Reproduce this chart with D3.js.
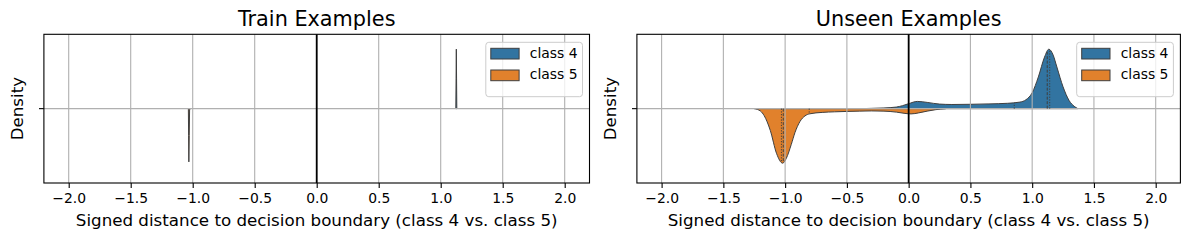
<!DOCTYPE html>
<html>
<head>
<meta charset="utf-8">
<script src="https://cdn.jsdelivr.net/npm/d3@7"></script>
<style>
  body { margin: 0; background: #fff; }
  svg { display: block; font-family: "DejaVu Sans", sans-serif; }
</style>
</head>
<body>
<svg id="canvas" width="1189" height="240"></svg>
<script>
// ---------- data ----------
let panelTitles = ['Train Examples', 'Unseen Examples']
let classNames = ['class 4', 'class 5']
let xTicks = [-2.0, -1.5, -1.0, -0.5, 0.0, 0.5, 1.0, 1.5, 2.0]
let xLabel = 'Signed distance to decision boundary (class 4 vs. class 5)'
let yLabel = 'Density'

// train: both classes collapse into very narrow spikes
let train4X = [1.122, 1.124, 1.126, 1.128, 1.130]
let train4Density = [0, 30, 60, 30, 0]
let train5X = [-1.035, -1.033, -1.031, -1.028, -1.025, -1.016]
let train5Density = [0, 27, 53.7, 27, 0.5, 0]

// unseen: kde estimates (relative density)
let unseen4X = [-0.38, -0.3, -0.2, -0.1, -0.05, 0.0, 0.07, 0.15, 0.25, 0.35, 0.5, 0.65, 0.8, 0.9, 0.95, 1.0, 1.05, 1.1, 1.135, 1.17, 1.2, 1.25, 1.3, 1.34, 1.37]
let unseen4Density = [0, 0.015, 0.035, 0.08, 0.15, 0.25, 0.365, 0.315, 0.23, 0.21, 0.22, 0.24, 0.27, 0.33, 0.45, 0.8, 1.6, 2.6, 3.0, 2.7, 2.1, 1.1, 0.4, 0.12, 0]
let unseen5X = [-1.25, -1.2, -1.17, -1.12, -1.07, -1.02, -0.99, -0.95, -0.92, -0.88, -0.84, -0.8, -0.7, -0.6, -0.5, -0.4, -0.3, -0.2, -0.1, -0.03, 0.02, 0.08, 0.15, 0.22, 0.3]
let unseen5Density = [0, 0.12, 0.35, 1.1, 2.25, 2.75, 2.5, 1.8, 1.2, 0.65, 0.37, 0.26, 0.19, 0.16, 0.14, 0.125, 0.115, 0.125, 0.175, 0.24, 0.265, 0.215, 0.125, 0.05, 0]

// quartiles (q1, median, q3) of the unseen sets
let unseen4Quartiles = [0.855, 1.122, 1.142]
let unseen5Quartiles = [-1.03, -1.015, -0.805]

let colors = ['#3274a1', '#e1812c']
let edgeColor = '#3f3f3f'

// ---------- layout ----------
let canvas = d3.select('#canvas')
let boxTop = 34.3, boxBottom = 183
let panels = [
    {left: 43.9, right: 589.5, title: panelTitles[0],
     violins: [[train4X, train4Density], [train5X, train5Density]], quart: null},
    {left: 636.9, right: 1180.4, title: panelTitles[1],
     violins: [[unseen4X, unseen4Density], [unseen5X, unseen5Density]],
     quart: [unseen4Quartiles, unseen5Quartiles]}
]

let interp = (xs, ds, v) => {
    for (let i = 0; i < xs.length - 1; i++) {
        if (v >= xs[i] && v <= xs[i + 1]) {
            let t = (v - xs[i]) / (xs[i + 1] - xs[i])
            return ds[i] + t * (ds[i + 1] - ds[i])
        }
    }
    return 0
}

panels.forEach((p, pi) => {
    let xScale = d3.scaleLinear().domain([-2.2, 2.2]).range([p.left, p.right])
    let yScale = d3.scaleLinear().domain([-0.5, 0.5]).range([boxTop, boxBottom])
    let maxD = d3.max(p.violins, v => d3.max(v[1]))
    let half = d => d / maxD * 0.4
    let g = canvas.append('g')

    // violins (drawn below the grid like matplotlib patches)
    p.violins.forEach((v, ci) => {
        let sign = ci === 0 ? -1 : 1
        let pts = v[0].map((x, i) => [x, v[1][i]])
        let area = d3.area()
            .x(d => xScale(d[0]))
            .y0(yScale(0))
            .y1(d => yScale(sign * half(d[1])))
            .curve(pi === 0 ? d3.curveLinear : d3.curveMonotoneX)
        g.append('path')
            .datum(pts)
            .attr('d', area)
            .attr('fill', colors[ci])
            .attr('stroke', edgeColor)
            .attr('stroke-width', 1)
            .attr('stroke-linejoin', 'round')
    })

    // grid
    g.selectAll('.vgrid')
        .data(xTicks)
        .enter()
        .append('line')
        .attr('x1', d => xScale(d)).attr('x2', d => xScale(d))
        .attr('y1', boxTop).attr('y2', boxBottom)
        .attr('stroke', '#b0b0b0').attr('stroke-width', 1.1)
    g.append('line')
        .attr('x1', p.left).attr('x2', p.right)
        .attr('y1', yScale(0)).attr('y2', yScale(0))
        .attr('stroke', '#b0b0b0').attr('stroke-width', 1.1)

    // quartile lines
    if (p.quart) {
        p.quart.forEach((qs, ci) => {
            let sign = ci === 0 ? -1 : 1
            let v = p.violins[ci]
            qs.forEach((q, qi) => {
                g.append('line')
                    .attr('x1', xScale(q)).attr('x2', xScale(q))
                    .attr('y1', yScale(0))
                    .attr('y2', yScale(sign * half(interp(v[0], v[1], q))))
                    .attr('stroke', edgeColor)
                    .attr('stroke-width', 1)
                    .attr('stroke-dasharray', qi === 1 ? '3,1.5' : '1.2,1.5')
            })
        })
    }

    // decision boundary
    g.append('line')
        .attr('x1', xScale(0)).attr('x2', xScale(0))
        .attr('y1', boxTop).attr('y2', boxBottom)
        .attr('stroke', 'black').attr('stroke-width', 1.8)

    // frame
    g.append('rect')
        .attr('x', p.left).attr('y', boxTop)
        .attr('width', p.right - p.left).attr('height', boxBottom - boxTop)
        .attr('fill', 'none').attr('stroke', 'black').attr('stroke-width', 1.1)

    // x axis
    let axis = g.append('g')
        .attr('transform', 'translate(0,' + boxBottom + ')')
        .call(d3.axisBottom(xScale).tickValues(xTicks).tickFormat(d3.format('.1f')).tickSize(4.9).tickSizeOuter(0))
    axis.select('.domain').remove()
    axis.selectAll('line').attr('stroke', 'black').attr('stroke-width', 1.1)
    axis.selectAll('text')
        .attr('y', 19.9).attr('dy', 0)
        .attr('fill', 'black')
        .style('font-size', '13.9px')
        .style('font-family', '"DejaVu Sans", sans-serif')

    // y tick (no label)
    g.append('line')
        .attr('x1', p.left - 4.9).attr('x2', p.left)
        .attr('y1', yScale(0)).attr('y2', yScale(0))
        .attr('stroke', 'black').attr('stroke-width', 1.1)

    // labels
    let cx = (p.left + p.right) / 2
    g.append('text').text(p.title)
        .attr('x', cx).attr('y', 26)
        .attr('text-anchor', 'middle').style('font-size', '20.8px')
    g.append('text').text(xLabel)
        .attr('x', cx).attr('y', 225.5)
        .attr('text-anchor', 'middle').style('font-size', '16.7px')
    g.append('text').text(yLabel)
        .attr('transform', 'translate(' + (p.left - 20.5) + ',' + yScale(0) + ') rotate(-90)')
        .attr('text-anchor', 'middle').style('font-size', '16.7px')

    // legend
    let lx = p.right - 7 - 96.7, ly = 42.3
    let legend = g.append('g')
    legend.append('rect')
        .attr('x', lx).attr('y', ly).attr('width', 96.7).attr('height', 54.4)
        .attr('rx', 3).attr('fill', 'white').attr('fill-opacity', 0.8)
        .attr('stroke', '#cccccc').attr('stroke-width', 1)
    classNames.forEach((name, i) => {
        legend.append('rect')
            .attr('x', lx + 5).attr('y', ly + 6 + i * 21.7)
            .attr('width', 28.3).attr('height', 10.7)
            .attr('fill', colors[i]).attr('stroke', edgeColor).attr('stroke-width', 1)
        legend.append('text').text(name)
            .attr('x', lx + 44).attr('y', ly + 16 + i * 21)
            .style('font-size', '13.9px')
    })
})
</script>
</body>
</html>
